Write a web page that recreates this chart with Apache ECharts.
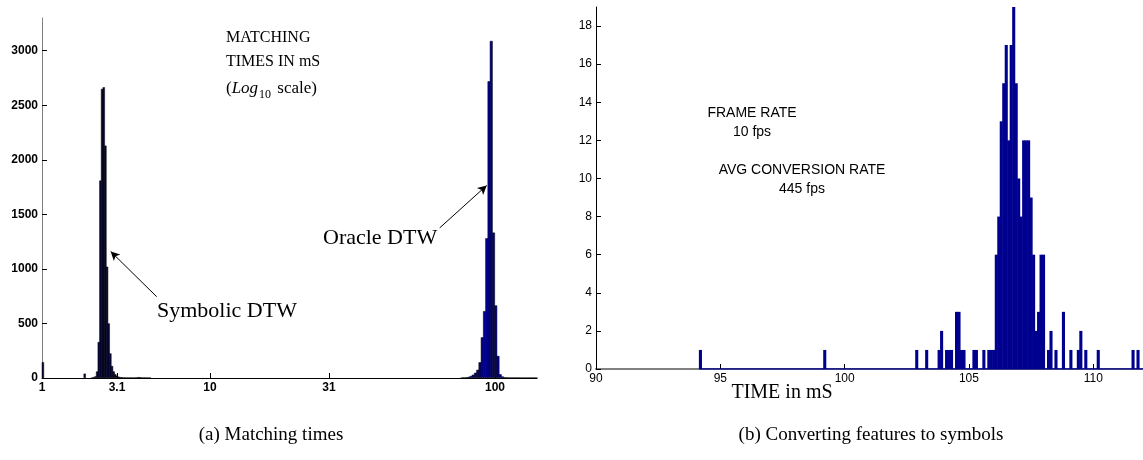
<!DOCTYPE html>
<html>
<head>
<meta charset="utf-8">
<script src="https://cdn.jsdelivr.net/npm/echarts@6/dist/echarts.min.js"></script>
<style>
  html, body { margin: 0; padding: 0; background: #ffffff; }
  #chart { width: 1143px; height: 460px; }
</style>
</head>
<body>
<div id="chart"></div>
<script>
// ---------- (a) Matching times, histogram over a log-scaled time axis ----------
// Axis coordinate: position along the log-time axis (bin coordinate), 0 = 1 mS.
const timeTickLabels = ['1', '3.1', '10', '31', '100'];
const timeTickPos = [0, 75, 168, 287, 453];
const logAxisMax = 495;

// Symbolic DTW histogram: first bin centre, bin width, counts per bin
const symbolicStart = 50.5;
const symbolicStep = 1.65;
const symbolicCounts = [3, 8, 15, 60, 330, 1810, 2650, 2665, 2130, 1020, 500, 225, 110, 60, 35, 20,
  12, 8, 6, 5, 4, 4, 3, 3, 2, 2, 3, 5, 8, 6, 4, 3, 2, 2, 1, 1];
// isolated Symbolic DTW bins away from the main peak: [bin centre, count]
const symbolicStray = [[1.2, 145], [43, 40]];

// Oracle DTW histogram
const oracleStart = 420;
const oracleStep = 2.25;
const oracleCounts = [3, 4, 6, 10, 18, 30, 48, 75, 144, 373, 613, 1281, 2720, 3090, 1333, 665, 202, 34, 14,
  6, 5, 4, 4, 3, 3, 3, 2, 2, 2, 2, 2, 2, 2, 1];

const countMax = 3300;
const countStep = 500;

// ---------- (b) Converting features to symbols, 0.1 mS bins ----------
const convTimes = [94.2, 99.2, 102.9, 103.3, 103.8, 103.9, 104.1, 104.2, 104.3, 104.5, 104.6, 104.7, 104.8,
  105.2, 105.3, 105.6, 105.8, 105.9, 106.0, 106.1, 106.2, 106.3, 106.4, 106.5, 106.6, 106.7, 106.8, 106.9,
  107.0, 107.1, 107.2, 107.3, 107.4, 107.5, 107.6, 107.7, 107.8, 107.9, 108.0, 108.2, 108.3, 108.5, 108.8,
  109.1, 109.4, 109.5, 109.7, 110.2, 111.6, 111.8];
const convCounts = [1, 1, 1, 1, 1, 2, 1, 1, 1, 3, 3, 1, 1,
  1, 1, 1, 1, 1, 1, 6, 8, 13, 15, 17, 12, 17, 19, 15,
  10, 8, 12, 12, 12, 9, 6, 2, 3, 6, 6, 1, 2, 1, 3,
  1, 1, 2, 1, 1, 1, 1];
const convBinWidth = 0.1;
const timeMin = 90, timeMax = 112, timeStep = 5;
const freqMax = 19, freqStep = 2;

// ---------- build series data ----------
const symbolicData = symbolicCounts.map((c, i) => [symbolicStart + i * symbolicStep, c]).concat(symbolicStray);
const oracleData = oracleCounts.map((c, i) => [oracleStart + i * oracleStep, c]);
const convData = convTimes.map((t, i) => [t, convCounts[i]]);
const convBaseline = [[convTimes[0] - convBinWidth / 2, 0], [timeMax, 0]];

const NAVY = '#00008f';
const serif = '"Liberation Serif", "DejaVu Serif", serif';
const sans = '"Liberation Sans", Arial, sans-serif';

const chart = echarts.init(document.getElementById('chart'), null, { renderer: 'canvas' });

const gridA = { left: 42, top: 18, width: 495, height: 360 };
const gridB = { left: 596, top: 7, width: 547, height: 362 };
const pxPerUnitA = gridA.width / logAxisMax;
const pxPerMs = gridB.width / (timeMax - timeMin);
// a hair of overlap so neighbouring histogram bins read as one solid block
const BIN_OVERLAP = 0.6;

const option = {
  animation: false,
  backgroundColor: '#ffffff',
  grid: [
    { left: gridA.left, top: gridA.top, width: gridA.width, height: gridA.height },
    { left: gridB.left, top: gridB.top, width: gridB.width, height: gridB.height }
  ],
  xAxis: [
    {
      gridIndex: 0, type: 'value', min: 0, max: logAxisMax,
      splitLine: { show: false },
      axisLine: { lineStyle: { color: '#000', width: 1 } },
      axisTick: { inside: true, length: 5, customValues: timeTickPos, lineStyle: { color: '#000' } },
      axisLabel: {
        customValues: timeTickPos, margin: 4,
        color: '#000', fontFamily: sans, fontWeight: 'bold', fontSize: 12,
        formatter: v => timeTickLabels[timeTickPos.indexOf(v)]
      }
    },
    {
      gridIndex: 1, type: 'value', min: timeMin, max: timeMax, interval: timeStep,
      splitLine: { show: false },
      axisLine: { lineStyle: { color: '#808080', width: 2 } },
      axisTick: { inside: true, length: 5, lineStyle: { color: '#000' } },
      axisLabel: { margin: 4, color: '#000', fontFamily: sans, fontSize: 12, showMaxLabel: false }
    }
  ],
  yAxis: [
    {
      gridIndex: 0, type: 'value', min: 0, max: countMax, interval: countStep,
      splitLine: { show: false },
      axisLine: { show: true, lineStyle: { color: '#808080', width: 1 } },
      axisTick: { show: true, inside: true, length: 5, lineStyle: { color: '#000' } },
      axisLabel: {
        margin: 4, color: '#000', fontFamily: sans, fontWeight: 'bold', fontSize: 12,
        showMaxLabel: false,
        formatter: v => (v % countStep === 0 ? String(v) : '')
      }
    },
    {
      gridIndex: 1, type: 'value', min: 0, max: freqMax, interval: freqStep,
      splitLine: { show: false },
      axisLine: { show: true, lineStyle: { color: '#000', width: 1 } },
      axisTick: { show: true, inside: true, length: 5, lineStyle: { color: '#000' } },
      axisLabel: { margin: 4, color: '#000', fontFamily: sans, fontSize: 12, showMaxLabel: false }
    }
  ],
  series: [
    {
      name: 'Symbolic DTW', type: 'bar', xAxisIndex: 0, yAxisIndex: 0,
      data: symbolicData, barWidth: symbolicStep * pxPerUnitA + BIN_OVERLAP, barGap: '-100%',
      itemStyle: { color: '#06063a', borderColor: '#000', borderWidth: 0.5 },
      markLine: {
        silent: true, symbol: ['none', 'arrow'], symbolSize: [7, 9],
        lineStyle: { color: '#000', width: 1, type: 'solid' },
        label: { show: false },
        data: [
          [{ coord: [115, 745] }, { coord: [69, 1160] }],
          [{ coord: [398, 1376] }, { coord: [445, 1765] }]
        ]
      }
    },
    {
      name: 'Oracle DTW', type: 'bar', xAxisIndex: 0, yAxisIndex: 0,
      data: oracleData, barWidth: oracleStep * pxPerUnitA + BIN_OVERLAP, barGap: '-100%',
      itemStyle: { color: NAVY, borderColor: '#000', borderWidth: 0.5 }
    },
    {
      name: 'baseline', type: 'line', xAxisIndex: 1, yAxisIndex: 1,
      data: convBaseline, symbol: 'none', silent: true,
      lineStyle: { color: NAVY, width: 1.5 }
    },
    {
      name: 'Conversion time', type: 'bar', xAxisIndex: 1, yAxisIndex: 1,
      data: convData, barWidth: convBinWidth * pxPerMs + BIN_OVERLAP, barGap: '-100%',
      itemStyle: { color: NAVY }
    }
  ],
  graphic: [
    { type: 'text', x: 226, y: 38, style: { text: 'MATCHING', font: '16px ' + serif, fill: '#000', verticalAlign: 'middle' } },
    { type: 'text', x: 226, y: 62, style: { text: 'TIMES IN mS', font: '16px ' + serif, fill: '#000', verticalAlign: 'middle' } },
    {
      type: 'text', x: 226, y: 77,
      style: {
        text: '{n|(}{i|Log}{s|10}{n| scale)}',
        rich: {
          n: { fontFamily: serif, fontSize: 17, fill: '#000', verticalAlign: 'bottom', lineHeight: 20 },
          i: { fontFamily: serif, fontSize: 17, fontStyle: 'italic', fill: '#000', verticalAlign: 'bottom', lineHeight: 20, padding: [0, 1, 0, 0] },
          s: { fontFamily: serif, fontSize: 12, fill: '#000', verticalAlign: 'bottom', lineHeight: 14, padding: [0, 2, -4, 0] }
        }
      }
    },
    { type: 'text', x: 157, y: 311, style: { text: 'Symbolic DTW', font: '22px ' + serif, fill: '#000', verticalAlign: 'middle' } },
    { type: 'text', x: 323, y: 238, style: { text: 'Oracle DTW', font: '22px ' + serif, fill: '#000', verticalAlign: 'middle' } },

    { type: 'text', x: 752, y: 113, style: { text: 'FRAME RATE', font: '14px ' + sans, fill: '#000', align: 'center', verticalAlign: 'middle' } },
    { type: 'text', x: 752, y: 132, style: { text: '10 fps', font: '14px ' + sans, fill: '#000', align: 'center', verticalAlign: 'middle' } },
    { type: 'text', x: 802, y: 170, style: { text: 'AVG CONVERSION RATE', font: '14px ' + sans, fill: '#000', align: 'center', verticalAlign: 'middle' } },
    { type: 'text', x: 802, y: 189, style: { text: '445 fps', font: '14px ' + sans, fill: '#000', align: 'center', verticalAlign: 'middle' } },
    { type: 'text', x: 782, y: 393, style: { text: 'TIME in mS', font: '20px ' + serif, fill: '#000', align: 'center', verticalAlign: 'middle' } },

    { type: 'text', x: 271, y: 435, style: { text: '(a) Matching times', font: '19px ' + serif, fill: '#000', align: 'center', verticalAlign: 'middle' } },
    { type: 'text', x: 871, y: 435, style: { text: '(b) Converting features to symbols', font: '19px ' + serif, fill: '#000', align: 'center', verticalAlign: 'middle' } }
  ]
};

chart.setOption(option);
</script>
</body>
</html>
